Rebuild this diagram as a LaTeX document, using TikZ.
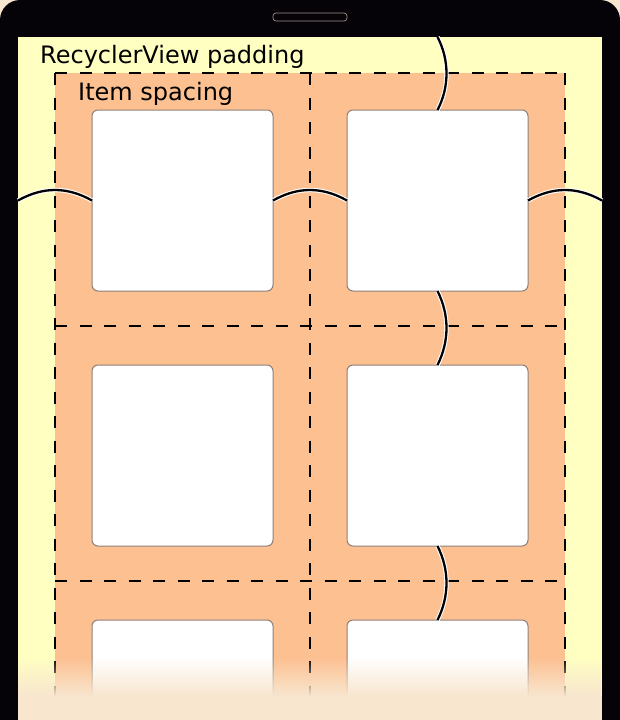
\documentclass[tikz,border=0pt]{standalone}
\usepackage{fontspec}
\setmainfont{DejaVu Sans}
\usetikzlibrary{fadings}
\definecolor{phone}{HTML}{060308}
\definecolor{bgbeige}{HTML}{F8E6CF}
\definecolor{padyellow}{HTML}{FFFFC2}
\definecolor{spaceorange}{HTML}{FDC091}
\definecolor{boxedge}{HTML}{8E8078}
\definecolor{slotedge}{HTML}{A09088}
\tikzset{
  itembox/.style={draw=boxedge, line width=1pt, fill=white, rounded corners=6pt,
    minimum width=181pt, minimum height=181pt, inner sep=0pt, outer sep=0pt},
  cellline/.style={line width=1.5pt, dash pattern=on 12pt off 12.5pt},
  brace/.style={preaction={draw=white, line width=4.4pt}, draw=black, line width=2.3pt},
  lbl/.style={anchor=base west, inner sep=0pt, font=\fontsize{24}{28}\selectfont}
}
\begin{document}
\begin{tikzpicture}[x=1pt,y=-1pt]
\useasboundingbox (0,0) rectangle (620,720);
\clip (0,0) rectangle (620,720);
\fill[bgbeige] (0,0) rectangle (620,720);
% phone body
\fill[phone, rounded corners=20pt] (0,0) rectangle (620,790);
\draw[slotedge, line width=0.7pt, rounded corners=3pt] (273,13) rectangle (347,21);
% padding area and spacing area
\fill[padyellow] (18,37) rectangle (602,720);
\fill[spaceorange] (55,73) rectangle (565,720);
% item boxes
\node[itembox] (b11) at (182.5,200.5) {};
\node[itembox] (b12) at (437.5,200.5) {};
\node[itembox] (b21) at (182.5,455.5) {};
\node[itembox] (b22) at (437.5,455.5) {};
\node[itembox] (b31) at (182.5,710.5) {};
\node[itembox] (b32) at (437.5,710.5) {};
% cell borders
\draw[cellline] (55,73) -- (565,73);
\draw[cellline] (55,326) -- (565,326);
\draw[cellline] (55,581) -- (565,581);
\draw[cellline] (55,73) -- (55,720);
\draw[cellline] (310,73) -- (310,720);
\draw[cellline] (565,73) -- (565,720);
% labels
\node[lbl] (padlbl) at (40,63) {RecyclerView padding};
\node[lbl] (spclbl) at (78,100) {Item spacing};
% brace endpoints
\coordinate (topedge) at (437.5,37);
\coordinate (leftedge) at (18,200.5);
\coordinate (rightedge) at (602,200.5);
% braces
\draw[brace] (topedge) .. controls +(12,23) and +(12,-23) .. (b12.north);
\draw[brace] (b12.south) .. controls +(12,24) and +(12,-24) .. (b22.north);
\draw[brace] (b22.south) .. controls +(12,24) and +(12,-24) .. (b32.north);
\draw[brace] (leftedge) .. controls +(25,-14) and +(-25,-14) .. (b11.west);
\draw[brace] (b11.east) .. controls +(25,-14) and +(-25,-14) .. (b12.west);
\draw[brace] (b12.east) .. controls +(25,-14) and +(-25,-14) .. (rightedge);
% bottom fade
\fill[bgbeige, path fading=north] (18,657) rectangle (602,696);
\fill[bgbeige] (18,695.5) rectangle (602,720);
\end{tikzpicture}
\end{document}
